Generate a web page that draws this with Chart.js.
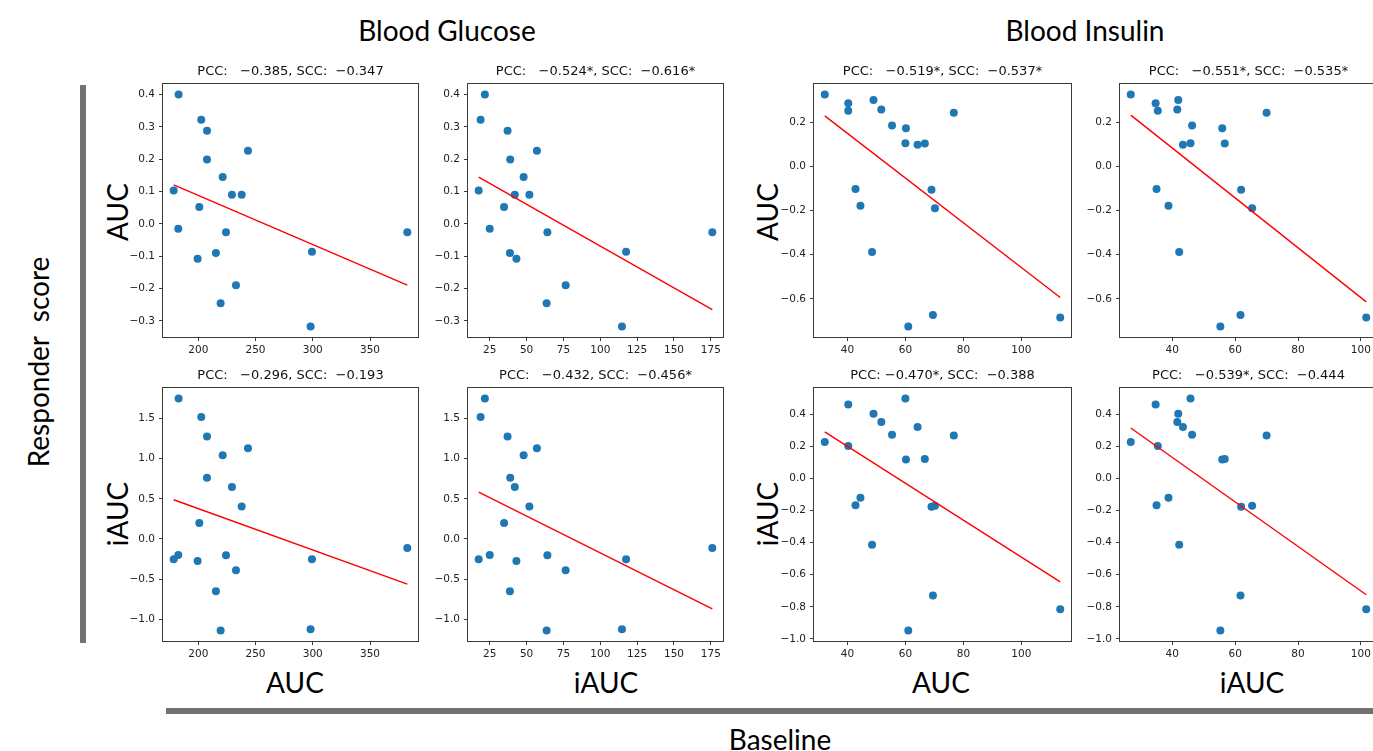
<!DOCTYPE html>
<html>
<head>
<meta charset="utf-8">
<script src="https://cdn.jsdelivr.net/npm/chart.js@4.4.1/dist/chart.umd.min.js"></script>
<style>
  body { margin: 0; width: 1373px; height: 751px; overflow: hidden; background: #fff; position: relative; }
  canvas { position: absolute; }
  .lbl { position: absolute; font-family: Lato, "Open Sans", sans-serif; font-size: 28px; color: #000; white-space: pre; transform: translate(-50%, -50%); }
  .rot { transform: translate(-50%, -50%) rotate(-90deg); }
  .bar { position: absolute; background: #767171; }
</style>
</head>
<body>
<div class="bar" style="left:80px;top:85px;width:6px;height:558px"></div>
<div class="bar" style="left:166px;top:708px;width:1210px;height:6px"></div>

<div class="lbl" style="left:447px;top:30px">Blood Glucose</div>
<div class="lbl" style="left:1085px;top:30px">Blood Insulin</div>
<div class="lbl rot" style="left:38px;top:362px">Responder  score</div>
<div class="lbl rot" style="left:117px;top:212px">AUC</div>
<div class="lbl rot" style="left:117px;top:514px">iAUC</div>
<div class="lbl rot" style="left:767px;top:212px">AUC</div>
<div class="lbl rot" style="left:767px;top:514px">iAUC</div>
<div class="lbl" style="left:295px;top:682px">AUC</div>
<div class="lbl" style="left:606px;top:682px">iAUC</div>
<div class="lbl" style="left:941px;top:682px">AUC</div>
<div class="lbl" style="left:1252px;top:682px">iAUC</div>
<div class="lbl" style="left:780px;top:739px">Baseline</div>

<script>
// baseline values per subject (x)
const glucoseAUC  = [182.8, 202.6, 207.6, 207.6, 243.4, 221.3, 178.5, 229.4, 237.9, 200.9, 182.5, 224.2, 382.6, 299.3, 199.4, 215.4, 232.9, 219.5, 298.1];
const glucoseIAUC = [21.7, 18.8, 37.1, 38.9, 57.0, 48.0, 17.5, 42.0, 51.9, 34.7, 25.0, 64.1, 176.0, 117.5, 43.1, 38.7, 76.5, 63.6, 114.7];
const insulinAUC  = [32.2, 40.3, 40.3, 49.0, 51.7, 55.4, 60.2, 60.0, 64.2, 66.7, 76.7, 42.8, 44.5, 48.5, 69.0, 70.2, 69.5, 61.0, 113.4];
const insulinIAUC = [26.8, 34.7, 35.4, 41.9, 41.6, 46.3, 55.9, 45.8, 43.4, 56.7, 70.0, 35.0, 38.8, 42.2, 61.9, 65.4, 61.7, 55.3, 101.7];

// responder scores (y)
const glucoseScoreAUC  = [0.400, 0.322, 0.288, 0.199, 0.226, 0.145, 0.103, 0.090, 0.090, 0.052, -0.015, -0.026, -0.026, -0.086, -0.108, -0.090, -0.190, -0.245, -0.317];
const glucoseScoreIAUC = [1.750, 1.520, 1.277, 0.763, 1.132, 1.045, -0.253, 0.647, 0.406, 0.199, -0.199, -0.203, -0.112, -0.253, -0.274, -0.651, -0.390, -1.140, -1.124];
const insulinScoreAUC  = [0.324, 0.285, 0.251, 0.300, 0.257, 0.184, 0.172, 0.104, 0.097, 0.103, 0.242, -0.103, -0.179, -0.388, -0.106, -0.190, -0.672, -0.724, -0.684];
const insulinScoreIAUC = [0.226, 0.460, 0.201, 0.402, 0.351, 0.271, 0.117, 0.497, 0.320, 0.121, 0.267, -0.168, -0.121, -0.413, -0.177, -0.170, -0.729, -0.947, -0.815];

// fitted line, y at min x and max x of each panel
const fitGluAucAuc   = [0.121, -0.189];
const fitGluAucIauc  = [0.145, -0.265];
const fitInsAucAuc   = [0.228, -0.593];
const fitInsAucIauc  = [0.231, -0.613];
const fitGluIaucAuc  = [0.489, -0.564];
const fitGluIaucIauc = [0.585, -0.870];
const fitInsIaucAuc  = [0.290, -0.645];
const fitInsIaucIauc = [0.314, -0.725];

const titles = [
  'PCC:   \u22120.385, SCC:  \u22120.347',
  'PCC:   \u22120.524*, SCC:  \u22120.616*',
  'PCC:   \u22120.519*, SCC:  \u22120.537*',
  'PCC:   \u22120.551*, SCC:  \u22120.535*',
  'PCC:   \u22120.296, SCC:  \u22120.193',
  'PCC:   \u22120.432, SCC:  \u22120.456*',
  'PCC: \u22120.470*, SCC:  \u22120.388',
  'PCC:   \u22120.539*, SCC:  \u22120.444'
];

// tick labels
const gluAucTicks  = [200, 250, 300, 350];
const gluIaucTicks = [25, 50, 75, 100, 125, 150, 175];
const insTicks     = [40, 60, 80, 100];
const gluScoreAucTicks  = [-0.3, -0.2, -0.1, 0.0, 0.1, 0.2, 0.3, 0.4];
const gluScoreIaucTicks = [-1.0, -0.5, 0.0, 0.5, 1.0, 1.5];
const insScoreAucTicks  = [-0.6, -0.4, -0.2, 0.0, 0.2];
const insScoreIaucTicks = [-1.0, -0.8, -0.6, -0.4, -0.2, 0.0, 0.2, 0.4];

const YAXIS_W = 50, XAXIS_H = 30, PAD_TOP = 30, PAD_RIGHT = 22;

// matplotlib-like 5% margins
function padRange(arr) {
  const lo = Math.min(...arr), hi = Math.max(...arr);
  const m = (hi - lo) * 0.05;
  return [lo - m, hi + m];
}

const boxPlugin = {
  id: 'box',
  afterDraw(chart) {
    const a = chart.chartArea, ctx = chart.ctx;
    ctx.save();
    ctx.strokeStyle = '#3a3a3a';
    ctx.lineWidth = 1;
    ctx.strokeRect(Math.round(a.left) + 0.5, Math.round(a.top) + 0.5, Math.round(a.right - a.left) - 1, Math.round(a.bottom - a.top) - 1);
    ctx.fillStyle = '#111';
    ctx.font = '13px "DejaVu Sans"';
    ctx.textAlign = 'center';
    ctx.textBaseline = 'alphabetic';
    ctx.fillText(chart.options.plugins.box.title, (a.left + a.right) / 2, a.top - 8);
    ctx.restore();
  }
};

function fmtY(v) {
  return v.toFixed(1).replace('-', '\u2212');
}

function makePanel(box, xs, ys, fit, xTicks, yTicks, title) {
  const cv = document.createElement('canvas');
  const w = YAXIS_W + box.w + PAD_RIGHT, h = PAD_TOP + box.h + XAXIS_H;
  cv.width = w; cv.height = h;
  cv.style.left = (box.x - YAXIS_W) + 'px';
  cv.style.top = (box.y - PAD_TOP) + 'px';
  cv.style.width = w + 'px'; cv.style.height = h + 'px';
  document.body.appendChild(cv);

  const xr = padRange(xs), yr = padRange(ys);
  const xMin = Math.min(...xs), xMax = Math.max(...xs);
  const tickFont = { family: 'DejaVu Sans', size: 10.5 };

  new Chart(cv, {
    type: 'scatter',
    data: {
      datasets: [
        {
          type: 'line',
          data: [{ x: xMin, y: fit[0] }, { x: xMax, y: fit[1] }],
          borderColor: '#ff0000',
          borderWidth: 1.4,
          pointRadius: 0,
          fill: false,
          order: 0
        },
        {
          data: xs.map((x, i) => ({ x: x, y: ys[i] })),
          backgroundColor: '#1f77b4',
          borderColor: '#1f77b4',
          borderWidth: 0,
          pointRadius: 4,
          order: 1
        }
      ]
    },
    options: {
      responsive: false,
      animation: false,
      events: [],
      layout: { padding: { top: PAD_TOP, right: PAD_RIGHT, left: 0, bottom: 0 } },
      plugins: { legend: { display: false }, tooltip: { enabled: false }, box: { title: title } },
      scales: {
        x: {
          type: 'linear',
          min: xr[0], max: xr[1],
          afterFit: s => { s.height = XAXIS_H; },
          afterBuildTicks: s => { s.ticks = xTicks.map(v => ({ value: v })); },
          border: { display: false },
          grid: { drawOnChartArea: false, tickLength: 3, color: '#3a3a3a' },
          ticks: { font: tickFont, color: '#222', padding: 3, maxRotation: 0, autoSkip: false, callback: v => String(v) }
        },
        y: {
          type: 'linear',
          min: yr[0], max: yr[1],
          afterFit: s => { s.width = YAXIS_W; },
          afterBuildTicks: s => { s.ticks = yTicks.map(v => ({ value: v })); },
          border: { display: false },
          grid: { drawOnChartArea: false, tickLength: 3, color: '#3a3a3a' },
          ticks: { font: tickFont, color: '#222', padding: 4, autoSkip: false, callback: v => fmtY(v) }
        }
      }
    },
    plugins: [boxPlugin]
  });
}

const ROW1 = 83, ROW2 = 387, BOX_H = 255;
makePanel({ x: 162,  y: ROW1, w: 257, h: BOX_H }, glucoseAUC,  glucoseScoreAUC,  fitGluAucAuc,   gluAucTicks,  gluScoreAucTicks,  titles[0]);
makePanel({ x: 467,  y: ROW1, w: 257, h: BOX_H }, glucoseIAUC, glucoseScoreAUC,  fitGluAucIauc,  gluIaucTicks, gluScoreAucTicks,  titles[1]);
makePanel({ x: 813,  y: ROW1, w: 259, h: BOX_H }, insulinAUC,  insulinScoreAUC,  fitInsAucAuc,   insTicks,     insScoreAucTicks,  titles[2]);
makePanel({ x: 1119, y: ROW1, w: 259, h: BOX_H }, insulinIAUC, insulinScoreAUC,  fitInsAucIauc,  insTicks,     insScoreAucTicks,  titles[3]);
makePanel({ x: 162,  y: ROW2, w: 257, h: BOX_H }, glucoseAUC,  glucoseScoreIAUC, fitGluIaucAuc,  gluAucTicks,  gluScoreIaucTicks, titles[4]);
makePanel({ x: 467,  y: ROW2, w: 257, h: BOX_H }, glucoseIAUC, glucoseScoreIAUC, fitGluIaucIauc, gluIaucTicks, gluScoreIaucTicks, titles[5]);
makePanel({ x: 813,  y: ROW2, w: 259, h: BOX_H }, insulinAUC,  insulinScoreIAUC, fitInsIaucAuc,  insTicks,     insScoreIaucTicks, titles[6]);
makePanel({ x: 1119, y: ROW2, w: 259, h: BOX_H }, insulinIAUC, insulinScoreIAUC, fitInsIaucIauc, insTicks,     insScoreIaucTicks, titles[7]);
</script>
</body>
</html>
